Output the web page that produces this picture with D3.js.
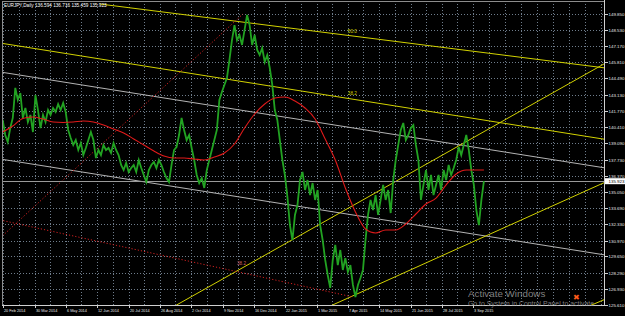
<!DOCTYPE html>
<html>
<head>
<meta charset="utf-8">
<style>
  body { margin: 0; background: #000; }
  svg { display: block; }
  text { font-family: "Liberation Sans", Arial, sans-serif; }
</style>
</head>
<body>
<svg width="625" height="316"></svg>
<script src="https://d3js.org/d3.v7.min.js"></script>
<script>
  var title = "EURJPY,Daily  136.594 136.716 135.459 135.923";
  var lastPrice = 135.923;

  // daily closes, one every 3 days from the start date
  var startDate = "2014-02-20";
  var stepDays = 3;
  var closes = [
    141.02,139.77,139.19,140.35,141.19,143.69,142.69,143.27,141.19,142.02,140.85,141.44,140.02,
    143.10,141.85,140.35,141.44,140.85,141.85,141.44,142.02,141.69,142.35,141.85,142.44,141.69,
    140.19,139.52,138.94,139.35,138.52,139.10,138.10,138.69,139.35,140.02,139.35,137.85,138.52,
    138.10,138.94,138.52,138.69,138.27,139.10,138.52,138.10,137.27,136.85,137.44,136.69,137.02,
    137.27,136.69,137.69,137.02,136.44,135.86,136.85,137.27,137.52,137.02,137.69,137.27,136.69,
    136.19,135.86,137.27,138.52,138.77,139.77,141.19,140.19,139.35,139.77,138.69,137.69,136.44,
    135.77,136.19,135.36,136.85,137.69,138.52,139.35,140.19,142.69,143.35,143.94,144.52,146.02,
    147.68,148.93,147.68,148.10,147.27,148.52,149.77,148.93,147.27,148.10,146.85,146.43,147.02,
    145.85,146.43,145.35,143.94,141.85,141.02,139.35,137.69,136.44,134.61,132.27,131.02,133.11,
    133.94,136.02,136.69,135.19,136.02,134.77,135.77,134.36,135.19,132.27,131.02,129.36,128.11,
    127.03,129.36,130.61,128.94,130.19,128.53,129.52,128.36,128.94,127.28,126.28,127.28,127.86,
    128.53,131.02,133.11,134.36,133.52,134.77,133.11,134.36,135.61,134.36,135.19,133.27,136.02,
    137.69,138.94,140.19,140.77,139.35,139.77,140.35,140.60,138.94,137.69,134.36,135.61,136.85,
    135.19,136.44,134.77,135.61,136.44,135.19,136.85,136.02,137.27,136.44,137.02,137.69,138.77,
    138.10,138.94,139.77,138.52,136.85,135.61,133.52,132.27,134.36,135.92
  ];

  // moving average, one every 12 days
  var maStepDays = 12;
  var maValues = [
    140.02,140.52,141.15,141.27,141.10,140.85,140.81,140.85,140.94,140.85,
    140.60,140.27,139.94,139.44,138.94,138.44,138.02,137.85,137.85,137.77,
    137.69,137.94,138.27,139.02,140.35,141.52,142.35,142.85,142.94,142.60,
    142.02,141.10,139.44,137.69,135.36,133.36,131.94,131.61,131.86,131.86,
    132.36,133.19,134.02,134.52,135.61,136.52,136.85,136.85,136.85
  ];

  var dateTicks = ["20 Feb 2014","30 Mar 2014","6 May 2014","12 Jun 2014","20 Jul 2014",
    "26 Aug 2014","2 Oct 2014","9 Nov 2014","16 Dec 2014","22 Jan 2015","1 Mar 2015",
    "7 Apr 2015","14 May 2015","21 Jun 2015","28 Jul 2015","3 Sep 2015"];

  var priceTicks = [149.850,148.530,147.170,145.810,144.490,143.130,141.770,140.410,139.090,
    137.730,136.370,135.050,133.690,132.330,130.970,129.650,128.290,126.930,125.610];

  // drawn objects: [date, price] pairs
  var yellowLines = [
    [["2014-06-16",150.68],["2016-02-08",145.35]],
    [["2014-02-17",147.43],["2016-02-08",139.40]],
    [["2014-09-13",125.53],["2016-02-08",145.77]],
    [["2015-03-15",125.46],["2016-02-08",135.86]],
    [["2016-01-15",125.39],["2016-02-08",126.11]]
  ];
  var grayLines = [
    [["2014-02-17",145.02],["2016-02-08",137.02]],
    [["2014-02-17",137.77],["2016-02-08",129.77]]
  ];
  var redLines = [
    [["2014-02-17",131.19],["2014-12-03",149.85]],
    [["2014-02-17",132.69],["2015-04-13",126.28]]
  ];
  var yellowLabels = [["50.0","2015-04-07",148.43],["38.2","2015-04-07",143.27]];
  var redLabels = [["38.2","2014-11-26",129.11]];

  var svg = d3.select("svg");
  var plotLeft = 2, plotRight = 605, plotTop = 1, plotBottom = 305;

  var parseTick = d3.timeParse("%d %b %Y");
  var parseIso = d3.timeParse("%Y-%m-%d");
  var tickDates = dateTicks.map(parseTick);

  var x = d3.scaleTime()
    .domain([tickDates[0], tickDates[tickDates.length - 1]])
    .range([2.7, 473]);
  var y = d3.scaleLinear()
    .domain([priceTicks[priceTicks.length - 1], priceTicks[0]])
    .range([305, 14]);

  var start = parseIso(startDate);
  var series = closes.map(function(v, i) {
    return {date: d3.timeDay.offset(start, i * stepDays), value: v};
  });
  var lastDate = series[series.length - 1].date;
  var ma = maValues.map(function(v, i) {
    var d = d3.timeDay.offset(start, i * maStepDays);
    return {date: d > lastDate ? lastDate : d, value: v};
  });

  svg.append("rect").attr("width", 625).attr("height", 316).attr("fill", "#000");

  svg.append("defs").append("clipPath").attr("id", "plotclip")
    .append("rect").attr("x", plotLeft).attr("y", plotTop)
    .attr("width", plotRight - plotLeft).attr("height", plotBottom - plotTop);

  // grid
  var grid = svg.append("g").attr("stroke", "#6f7d8c").attr("stroke-dasharray", "1,2")
    .attr("shape-rendering", "crispEdges");
  priceTicks.forEach(function(p) {
    var yy = Math.round(y(p)) + 0.5;
    grid.append("line").attr("x1", plotLeft).attr("x2", plotRight).attr("y1", yy).attr("y2", yy);
  });
  var gridX = [];
  tickDates.forEach(function(d, i) {
    gridX.push(x(d));
    if (i < tickDates.length - 1) gridX.push((x(d) + x(tickDates[i + 1])) / 2);
  });
  var half = (x(tickDates[1]) - x(tickDates[0])) / 2;
  for (var gx = x(tickDates[tickDates.length - 1]) + half; gx < plotRight; gx += half) gridX.push(gx);
  gridX.forEach(function(gx) {
    var xx = Math.round(gx) + 0.5;
    grid.append("line").attr("x1", xx).attr("x2", xx).attr("y1", plotTop).attr("y2", plotBottom);
  });

  var objs = svg.append("g").attr("clip-path", "url(#plotclip)");
  function drawLines(list, color, dash) {
    list.forEach(function(l) {
      objs.append("line")
        .attr("x1", x(parseIso(l[0][0]))).attr("y1", y(l[0][1]))
        .attr("x2", x(parseIso(l[1][0]))).attr("y2", y(l[1][1]))
        .attr("stroke", color).attr("stroke-width", 1)
        .attr("stroke-dasharray", dash);
    });
  }
  drawLines(grayLines, "#b4b4b4", null);
  drawLines(yellowLines, "#d2d200", null);
  drawLines(redLines, "#d02020", "1.2,2");

  // bid line
  objs.append("line").attr("x1", plotLeft).attr("x2", plotRight)
    .attr("y1", Math.round(y(lastPrice)) + 0.5).attr("y2", Math.round(y(lastPrice)) + 0.5)
    .attr("stroke", "#9a9a9a").attr("shape-rendering", "crispEdges");

  var line = d3.line().x(function(d) { return x(d.date); }).y(function(d) { return y(d.value); });
  objs.append("path").datum(series).attr("d", line)
    .attr("fill", "none").attr("stroke", "#22a322").attr("stroke-width", 1.8)
    .attr("stroke-linejoin", "miter");
  objs.append("path").datum(ma).attr("d", line.curve(d3.curveMonotoneX))
    .attr("fill", "none").attr("stroke", "#e01a1a").attr("stroke-width", 1.1);

  yellowLabels.forEach(function(l) {
    svg.append("text").attr("x", x(parseIso(l[1]))).attr("y", y(l[2]))
      .attr("dy", "0.35em").attr("font-size", 4.6).attr("fill", "#d2d200").text(l[0]);
  });
  redLabels.forEach(function(l) {
    svg.append("text").attr("x", x(parseIso(l[1]))).attr("y", y(l[2]))
      .attr("dy", "0.35em").attr("font-size", 4.6).attr("fill", "#d06060").text(l[0]);
  });

  // frame
  var frame = svg.append("g").attr("shape-rendering", "crispEdges");
  frame.append("line").attr("x1", plotLeft + 0.5).attr("x2", plotLeft + 0.5)
    .attr("y1", plotTop).attr("y2", plotBottom).attr("stroke", "#8c8c8c");
  frame.append("line").attr("x1", plotLeft).attr("x2", plotRight)
    .attr("y1", plotTop + 0.5).attr("y2", plotTop + 0.5).attr("stroke", "#8c8c8c");
  frame.append("line").attr("x1", plotRight - 0.5).attr("x2", plotRight - 0.5)
    .attr("y1", 0).attr("y2", plotBottom + 1).attr("stroke", "#d0d0d0");
  frame.append("line").attr("x1", plotLeft).attr("x2", plotRight)
    .attr("y1", plotBottom + 0.5).attr("y2", plotBottom + 0.5).attr("stroke", "#d0d0d0");

  // price axis
  priceTicks.forEach(function(p) {
    var yy = Math.round(y(p)) + 0.5;
    frame.append("line").attr("x1", plotRight).attr("x2", plotRight + 3).attr("y1", yy).attr("y2", yy)
      .attr("stroke", "#d0d0d0");
    svg.append("text").attr("x", plotRight + 3.5).attr("y", yy).attr("dy", "0.35em")
      .attr("font-size", 4.4).attr("fill", "#e6e6e6").text(d3.format(".3f")(p));
  });
  var ty = y(lastPrice);
  svg.append("rect").attr("x", plotRight).attr("y", ty - 3).attr("width", 20).attr("height", 6)
    .attr("fill", "#ffffff");
  svg.append("text").attr("x", plotRight + 3.5).attr("y", ty).attr("dy", "0.35em")
    .attr("font-size", 4.4).attr("fill", "#000").text(d3.format(".3f")(lastPrice));

  // time axis
  tickDates.forEach(function(d, i) {
    var xx = Math.round(x(d)) + 0.5;
    frame.append("line").attr("x1", xx).attr("x2", xx).attr("y1", plotBottom).attr("y2", plotBottom + 3)
      .attr("stroke", "#d0d0d0");
    svg.append("text").attr("x", xx + 0.5).attr("y", 311.5)
      .attr("font-size", 3.8).attr("fill", "#e6e6e6").text(dateTicks[i]);
  });

  svg.append("text").attr("x", 4).attr("y", 6.5).attr("font-size", 4.7)
    .attr("fill", "#ffffff").text(title);

  // screen overlay
  svg.append("text").attr("x", 576.5).attr("y", 299.5).attr("text-anchor", "middle")
    .attr("font-family", "DejaVu Sans").attr("font-size", 8).attr("fill", "#ff5a1a").text("\u2716");
  svg.append("text").attr("x", 468).attr("y", 297).attr("font-size", 9.8)
    .attr("fill", "#9a9a9a").attr("fill-opacity", 0.85).text("Activate Windows");
  svg.append("text").attr("x", 468).attr("y", 306).attr("font-size", 6.9)
    .attr("fill", "#9a9a9a").attr("fill-opacity", 0.85).text("Go to System in Control Panel to activate");
</script>
</body>
</html>
